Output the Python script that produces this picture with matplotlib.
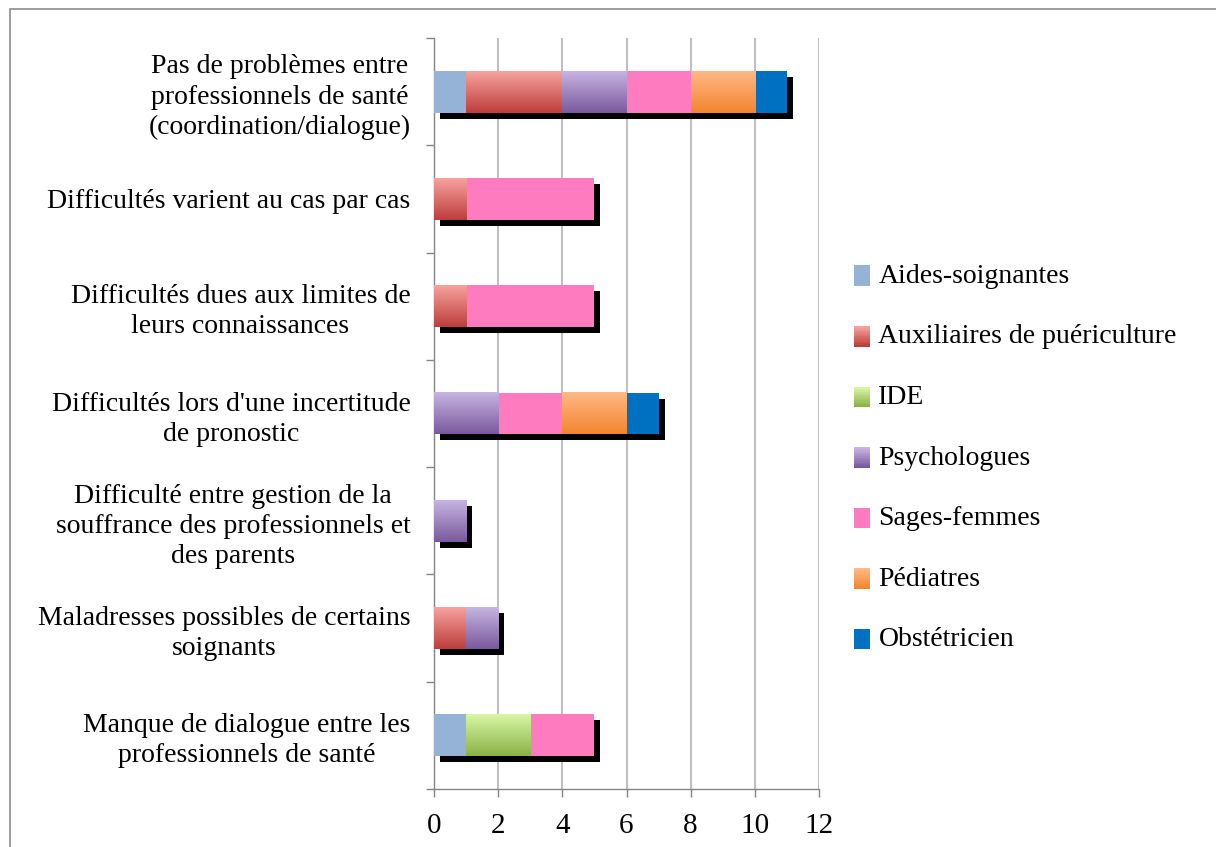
import numpy as np
import matplotlib
matplotlib.use("Agg")
import matplotlib.pyplot as plt
from matplotlib.patches import Patch, Rectangle
from matplotlib.legend_handler import HandlerBase
from matplotlib import patheffects as pe
from matplotlib.colors import to_rgb

plt.rcParams['font.family'] = ['Liberation Serif', 'DejaVu Serif']

categories = [
    "Pas de problèmes entre\nprofessionnels de santé\n(coordination/dialogue)",
    "Difficultés varient au cas par cas",
    "Difficultés dues aux limites de\nleurs connaissances",
    "Difficultés lors d'une incertitude\nde pronostic",
    "Difficulté entre gestion de la\nsouffrance des professionnels et\ndes parents",
    "Maladresses possibles de certains\nsoignants",
    "Manque de dialogue entre les\nprofessionnels de santé",
]
series = ["Aides-soignantes", "Auxiliaires de puériculture", "IDE",
          "Psychologues", "Sages-femmes", "Pédiatres", "Obstétricien"]
aides = [1, 0, 0, 0, 0, 0, 1]
auxiliaires = [3, 1, 1, 0, 0, 1, 0]
ide = [0, 0, 0, 0, 0, 0, 2]
psychologues = [2, 0, 0, 2, 1, 1, 0]
sages_femmes = [2, 4, 4, 2, 0, 0, 2]
pediatres = [2, 0, 0, 2, 0, 0, 0]
obstetricien = [1, 0, 0, 1, 0, 0, 0]
values = [aides, auxiliaires, ide, psychologues, sages_femmes, pediatres, obstetricien]

# (top colour, bottom colour)
colors = [("#95b3d7", "#95b3d7"), ("#f7a29e", "#bd3e3b"), ("#d8f6a4", "#8ab248"),
          ("#c6b4e1", "#7a5a9e"), ("#ff7bbf", "#ff7bbf"), ("#ffb886", "#f3852f"),
          ("#0070c0", "#0070c0")]


def grad(top, bot, n=64):
    t = np.linspace(0, 1, n)[:, None]
    return np.array(to_rgb(bot)) * (1 - t) + np.array(to_rgb(top)) * t


fig = plt.figure(figsize=(12.16, 8.47), dpi=100)
ax = fig.add_axes([434/1216, 1-789/847, 385/1216, 751/847])

y = np.arange(len(categories))
h = 0.39
left = np.zeros(len(categories))
shadow = [pe.SimplePatchShadow(offset=(4.3, -4.3), shadow_rgbFace="black", alpha=1), pe.Normal()]
for vals, (top, bot) in zip(values, colors):
    vals = np.array(vals, dtype=float)
    bars = ax.barh(y, vals, height=h, left=left, color=bot, edgecolor="none", zorder=3)
    for b in bars:
        b.set_path_effects(shadow)
    if top != bot:
        for yi, l, v in zip(y, left, vals):
            if v > 0:
                ax.imshow(grad(top, bot)[:, None, :], origin="lower", aspect="auto",
                          extent=(l, l + v, yi + h/2, yi - h/2), zorder=4)
    left += vals

ax.set_xlim(0, 12)
ax.set_ylim(len(categories) - 0.5, -0.5)
ax.set_xticks(range(0, 13, 2))
ax.set_yticks(y)
ax.set_yticklabels(categories)
for t in ax.get_yticklabels():
    t.set_multialignment("center")
    t.set_linespacing(1.27)
ax.set_yticks(np.arange(-0.5, len(categories)), minor=True)
ax.tick_params(axis="y", which="major", length=0, pad=17, labelsize=20)
ax.tick_params(axis="y", which="minor", length=6, color="#868686", width=1)
ax.tick_params(axis="x", length=6, color="#868686", width=1, labelsize=21, pad=11)
ax.xaxis.grid(True, color="#bfbfbf", linewidth=1.5)
ax.set_axisbelow(True)
for s in ["top", "right"]:
    ax.spines[s].set_visible(False)
for s in ["left", "bottom"]:
    ax.spines[s].set_color("#868686")
    ax.spines[s].set_linewidth(1)


class GradHandler(HandlerBase):
    def create_artists(self, legend, orig, xd, yd, w, hh, fs, trans):
        top, bot = orig.grad_colors
        n = 12
        arts = []
        for i in range(n):
            c = np.array(to_rgb(bot)) * (1 - i/(n-1)) + np.array(to_rgb(top)) * i/(n-1)
            arts.append(Rectangle((xd, yd - hh*0.1 + 1.2*hh*i/n), w, 1.2*hh/n + 0.3,
                                  facecolor=c, edgecolor="none", transform=trans))
        return arts


handles = []
for name, c in zip(series, colors):
    p = Patch(label=name)
    p.grad_colors = c
    handles.append(p)
fig.legend(handles=handles, loc="center left", bbox_to_anchor=(829/1216, 1-458/847),
           frameon=False, fontsize=20, labelspacing=1.28, handlelength=0.58,
           handleheight=0.55, handletextpad=0.3,
           handler_map={Patch: GradHandler()})

fig.patches.append(Rectangle((10/1216, -0.1), 1.2, 1.1 - 9/847, transform=fig.transFigure,
                             fill=False, edgecolor="#8c8c8c", linewidth=1.2))

fig.savefig("out.png", dpi=100)
